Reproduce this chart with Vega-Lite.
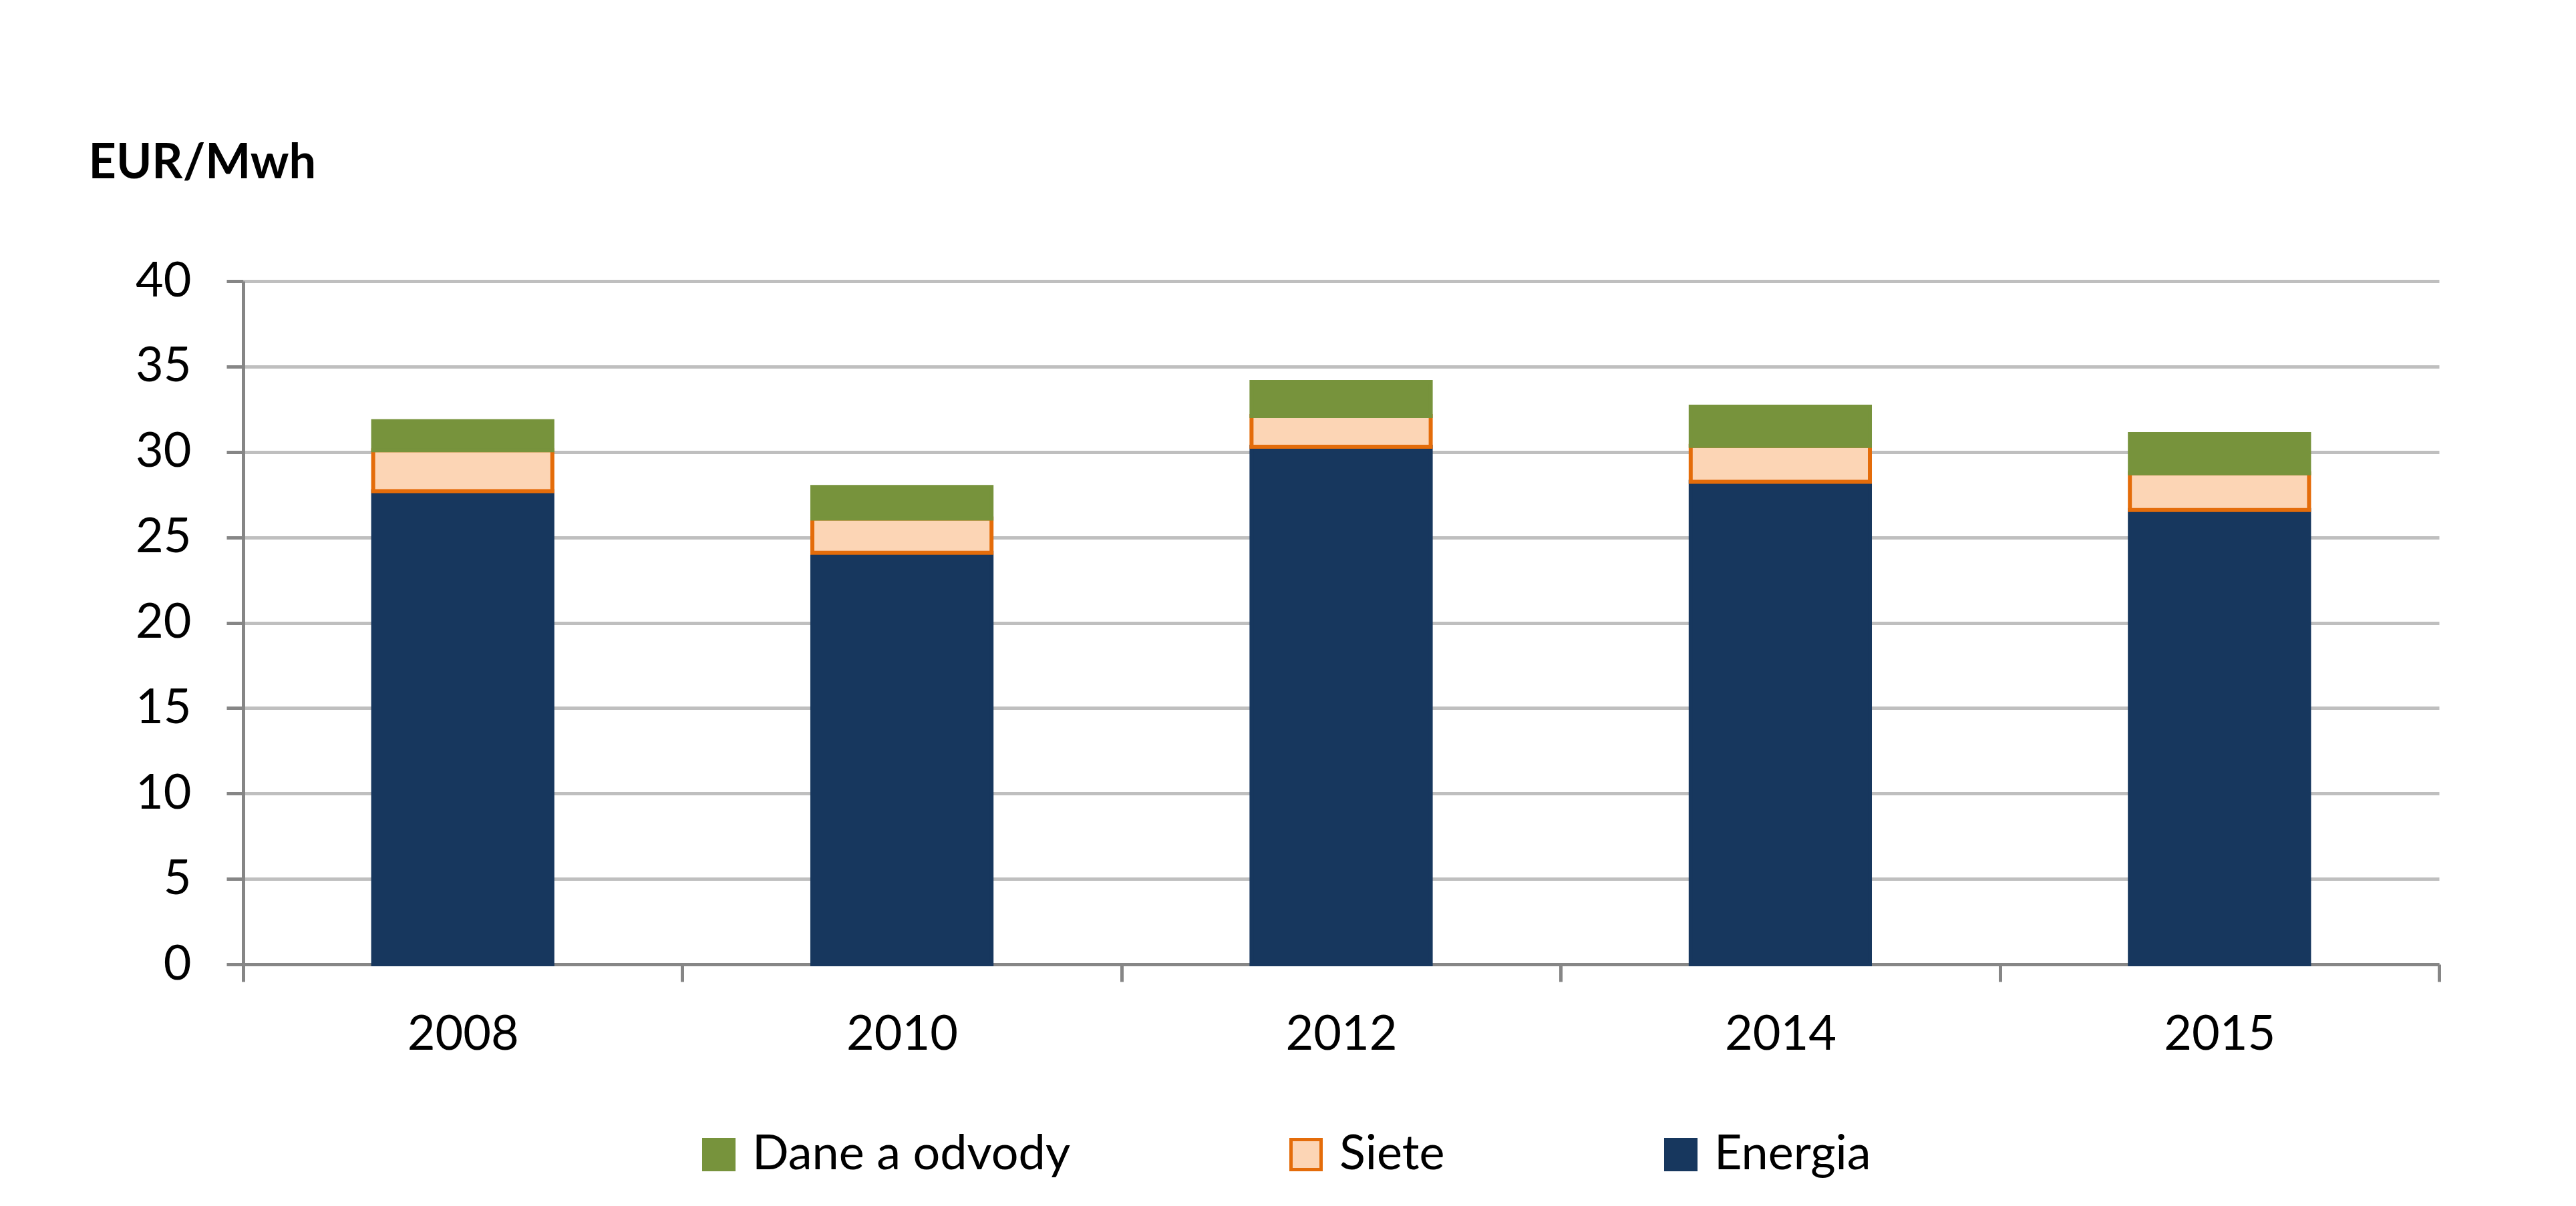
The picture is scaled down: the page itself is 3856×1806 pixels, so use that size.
{
  "$schema": "https://vega.github.io/schema/vega-lite/v6.json",
  "width": 3287,
  "height": 1023,
  "autosize": {"type": "none"},
  "padding": {"left": 364, "top": 421, "right": 205, "bottom": 362},
  "background": "white",
  "datasets": {
    "prices": [
      {"year": "2008", "series": "Energia", "value": 27.7},
      {"year": "2008", "series": "Siete", "value": 2.4},
      {"year": "2008", "series": "Dane a odvody", "value": 1.7},
      {"year": "2010", "series": "Energia", "value": 24.1},
      {"year": "2010", "series": "Siete", "value": 2.0},
      {"year": "2010", "series": "Dane a odvody", "value": 1.85},
      {"year": "2012", "series": "Energia", "value": 30.3},
      {"year": "2012", "series": "Siete", "value": 1.8},
      {"year": "2012", "series": "Dane a odvody", "value": 2.0},
      {"year": "2014", "series": "Energia", "value": 28.25},
      {"year": "2014", "series": "Siete", "value": 2.1},
      {"year": "2014", "series": "Dane a odvody", "value": 2.3},
      {"year": "2015", "series": "Energia", "value": 26.6},
      {"year": "2015", "series": "Siete", "value": 2.15},
      {"year": "2015", "series": "Dane a odvody", "value": 2.3}
    ],
    "stacking": [
      {"series": "Energia", "rank": 1},
      {"series": "Siete", "rank": 2},
      {"series": "Dane a odvody", "rank": 3}
    ]
  },
  "data": {"name": "prices"},
  "transform": [
    {"lookup": "series", "from": {"data": {"name": "stacking"}, "key": "series", "fields": ["rank"]}}
  ],
  "mark": {"type": "bar", "strokeWidth": 6, "width": {"band": 0.408}},
  "encoding": {
    "x": {
      "field": "year",
      "type": "ordinal",
      "scale": {"paddingInner": 0, "paddingOuter": 0},
      "axis": {
        "title": null,
        "tickBand": "extent",
        "labelAngle": 0,
        "labelFontSize": 72,
        "labelColor": "black",
        "labelPadding": 44,
        "tickSize": 26,
        "tickWidth": 5,
        "tickColor": "#868686",
        "domainColor": "#868686",
        "domainWidth": 5,
        "grid": false
      }
    },
    "y": {
      "field": "value",
      "type": "quantitative",
      "stack": "zero",
      "scale": {"domain": [0, 40]},
      "axis": {
        "values": [0, 5, 10, 15, 20, 25, 30, 35, 40],
        "grid": true,
        "gridColor": "#BFBFBF",
        "gridWidth": 5,
        "domainColor": "#868686",
        "domainWidth": 5,
        "tickColor": "#868686",
        "tickWidth": 5,
        "tickSize": 25,
        "labelFontSize": 72,
        "labelPadding": 53,
        "labelColor": "black",
        "title": "EUR/Mwh",
        "titleAngle": 0,
        "titleAlign": "left",
        "titleBaseline": "alphabetic",
        "titleX": -232,
        "titleY": -155,
        "titleFontSize": 72,
        "titleFontWeight": "bold",
        "titleColor": "black"
      }
    },
    "order": {"field": "rank", "type": "quantitative", "sort": "ascending"},
    "color": {
      "field": "series",
      "type": "nominal",
      "sort": ["Dane a odvody", "Siete", "Energia"],
      "scale": {"domain": ["Dane a odvody", "Siete", "Energia"], "range": ["#77933C", "#FCD5B5", "#17375E"]},
      "legend": {"title": null}
    },
    "stroke": {
      "field": "series",
      "type": "nominal",
      "sort": ["Dane a odvody", "Siete", "Energia"],
      "scale": {"domain": ["Dane a odvody", "Siete", "Energia"], "range": ["#77933C", "#E46C0A", "#17375E"]},
      "legend": {"title": null}
    }
  },
  "config": {
    "view": {"stroke": null},
    "font": "Lato",
    "legend": {
      "orient": "none",
      "legendX": 676,
      "legendY": 1272,
      "direction": "horizontal",
      "symbolType": "square",
      "symbolSize": 2025,
      "symbolStrokeWidth": 5,
      "labelFontSize": 72,
      "labelColor": "black",
      "labelOffset": 14,
      "columnPadding": 317,
      "labelLimit": 1000
    }
  }
}
